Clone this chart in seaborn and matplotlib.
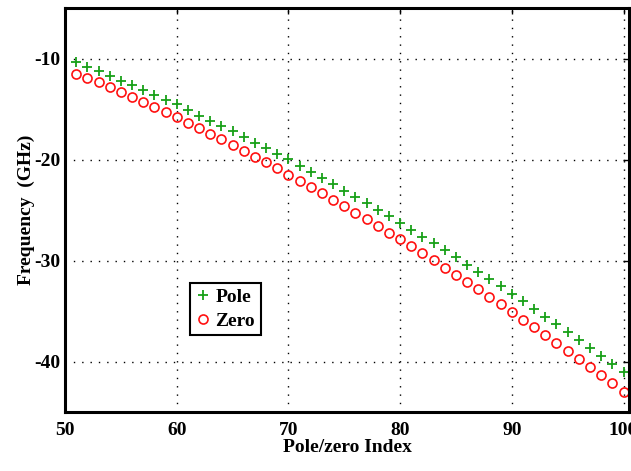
import matplotlib
matplotlib.use("Agg")
import matplotlib.pyplot as plt
import seaborn as sns
import numpy as np
import pandas as pd
from matplotlib.lines import Line2D

index = list(range(51, 101))
pole = [-10.37, -10.79, -11.26, -11.71, -12.18, -12.60, -13.10, -13.59, -14.09, -14.55,
        -15.08, -15.64, -16.17, -16.70, -17.20, -17.75, -18.32, -18.88, -19.44, -19.97,
        -20.63, -21.22, -21.81, -22.41, -23.07, -23.69, -24.33, -24.98, -25.61, -26.27,
        -26.93, -27.62, -28.29, -28.98, -29.67, -30.40, -31.09, -31.78, -32.54, -33.27,
        -34.03, -34.78, -35.54, -36.30, -37.10, -37.89, -38.65, -39.44, -40.23, -40.99]
zero = [-11.49, -11.91, -12.35, -12.84, -13.34, -13.83, -14.33, -14.82, -15.32, -15.81,
        -16.37, -16.86, -17.43, -17.99, -18.55, -19.14, -19.70, -20.27, -20.86, -21.49,
        -22.08, -22.67, -23.30, -23.96, -24.59, -25.25, -25.91, -26.57, -27.23, -27.89,
        -28.58, -29.28, -29.97, -30.69, -31.42, -32.11, -32.84, -33.56, -34.32, -35.08,
        -35.84, -36.60, -37.36, -38.12, -38.91, -39.73, -40.53, -41.35, -42.15, -42.97]
xticks = [50, 60, 70, 80, 90, 100]
yticks = [-40, -30, -20, -10]

sns.set_style("white")
plt.rcParams['font.family'] = ['Liberation Serif', 'DejaVu Serif']
plt.rcParams['font.weight'] = 'bold'
plt.rcParams['axes.unicode_minus'] = False
plt.rcParams['text.color'] = 'black'
plt.rcParams['axes.labelcolor'] = 'black'
plt.rcParams['xtick.color'] = 'black'
plt.rcParams['ytick.color'] = 'black'

df = pd.DataFrame({"index": index, "pole": pole, "zero": zero})

fig = plt.figure(figsize=(6.31, 4.71), dpi=100)
ax = fig.add_axes([0.103, 0.125, 0.894, 0.858])

green = '#18a018'
red = '#ff1010'
sns.lineplot(data=df, x="index", y="pole", ax=ax, linestyle='none', marker='+',
             markersize=7, markeredgewidth=1.3, color=green, markeredgecolor=green)
sns.lineplot(data=df, x="index", y="zero", ax=ax, linestyle='none', marker='o',
             markersize=6.5, markeredgewidth=1.2, markerfacecolor='none',
             markeredgecolor=red, color=red)

ax.set_xlim(50, 100.5)
ax.set_ylim(-45, -5)
ax.set_xticks(xticks)
ax.set_yticks(yticks)
ax.tick_params(direction='in', length=4, width=1, top=True, right=True,
               labelsize=14, colors='black')
ax.tick_params(axis='x', pad=7)
ax.tick_params(axis='y', pad=3)
for lbl in ax.get_xticklabels() + ax.get_yticklabels():
    lbl.set_fontweight('bold')
ax.grid(True, linestyle=(0, (1, 5)), color='black', linewidth=1)
for s in ax.spines.values():
    s.set_linewidth(2.2)
    s.set_color('black')
ax.set_xlabel("Pole/zero Index", fontsize=14, fontweight='bold', labelpad=0, color='black')
ax.set_ylabel("Frequency  (GHz)", fontsize=14, fontweight='bold', labelpad=0, color='black')

handles = [Line2D([], [], linestyle='none', marker='+', markersize=7, markeredgewidth=1.3, color=green),
           Line2D([], [], linestyle='none', marker='o', markersize=6.5, markeredgewidth=1.2,
                  markerfacecolor='none', markeredgecolor=red)]
leg = ax.legend(handles, ["Pole", "Zero"], loc='lower left', bbox_to_anchor=(0.222, 0.19),
                frameon=True, fancybox=False, framealpha=1, edgecolor='black',
                prop={'size': 14, 'weight': 'bold'}, handlelength=0.7, handletextpad=0.3,
                borderpad=0.3, labelspacing=0.3, borderaxespad=0)
leg.get_frame().set_linewidth(1.5)
for t in leg.get_texts():
    t.set_color('black')

fig.savefig("out.png", dpi=100)
